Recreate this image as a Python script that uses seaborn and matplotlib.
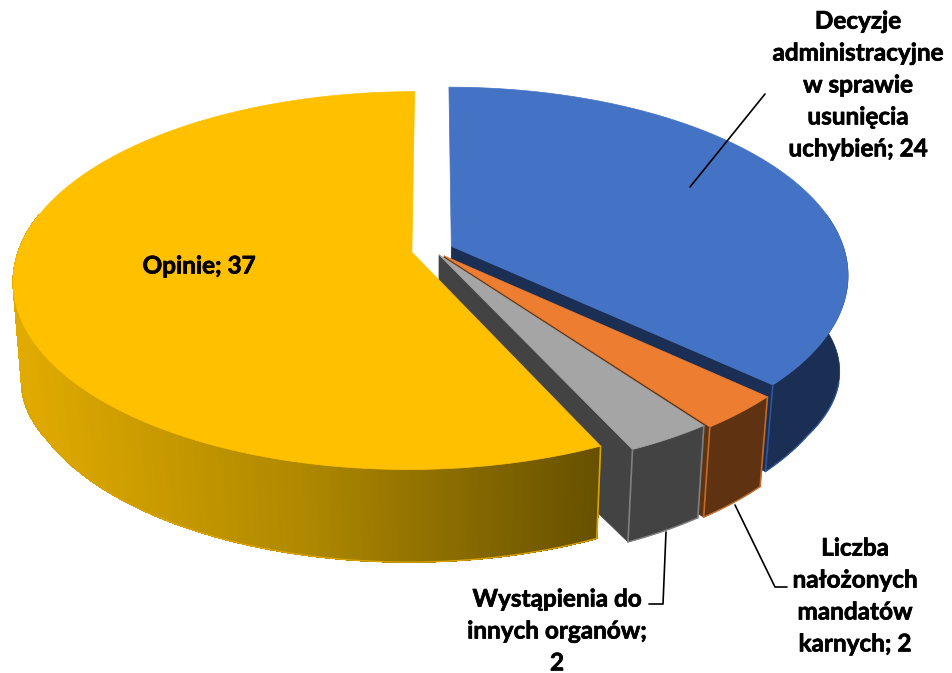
import numpy as np
import matplotlib
matplotlib.use("Agg")
import matplotlib.pyplot as plt
import matplotlib.patheffects as pe
import seaborn as sns

categories = [
    "Decyzje\nadministracyjne\nw sprawie\nusunięcia\nuchybień",
    "Liczba\nnałożonych\nmandatów\nkarnych",
    "Wystąpienia do\ninnych organów",
    "Opinie",
]
values = [24, 2, 2, 37]
separators = ["; ", "; ", ";\n", "; "]

top_colors = ["#4472C4", "#ED7D31", "#A5A5A5", "#FFC000"]
side_colors = ["#1B2F55", "#5F3311", "#434343", "#E0AA00"]
edge_colors = ["#2F5597", "#C46A28", "#808080", "#D9A300"]
explode = [0.051, 0.042, 0.030, 0.055]
wall_trim = [5, 2, 0, 0]

sns.set_theme(style="white")
plt.rcParams["font.family"] = ["Lato", "DejaVu Sans"]

# rough perspective camera, fitted by eye (pixel units)
CX, CY = 433, 250
RX, RY = 393, 184
K, M = 0.15, 0.02
# wall height in pixels along the depth axis
DEPTH_Y = [-1.05, -0.5, 0.2]
DEPTH_PX = [98, 93, 110]


def project(x, y, z=0.0, trim=0):
    x, y = np.asarray(x, dtype=float), np.asarray(y, dtype=float)
    w = 1 + K * y + M * z
    depth = np.interp(y, DEPTH_Y, DEPTH_PX) - trim
    return CX + RX * x / w, CY - RY * y / w + depth * z


fig = plt.figure(figsize=(9.52, 6.73), dpi=100)
ax = fig.add_axes([0, 0, 1, 1])
ax.set_xlim(0, 952)
ax.set_ylim(673, 0)
ax.axis("off")

# yellow wall fades from left to right
yellow_ramp = sns.blend_palette(["#E0AA00", "#AD8700", "#665000"], 200)

shares = np.array(values) / sum(values) * 360
ends = np.cumsum(shares)
starts = ends - shares

for i in range(len(values)):
    a0, a1 = np.radians(starts[i]), np.radians(ends[i])
    mid = (a0 + a1) / 2
    ox, oy = explode[i] * np.sin(mid), explode[i] * np.cos(mid)
    t = np.linspace(a0, a1, max(int(shares[i] * 3), 16))
    ux, uy = ox + np.sin(t), oy + np.cos(t)

    # cut face at the clockwise end
    xa, ya = project(ox, oy)
    xb, yb = project(ox, oy, 1, wall_trim[i])
    xc, yc = project(ux[-1], uy[-1])
    xd, yd = project(ux[-1], uy[-1], 1, wall_trim[i])
    if i < 3:
        ax.fill([xa, xc, xd, xb], [ya, yc, yd, yb], color=side_colors[i], lw=0.5)

    tx, ty = project(ux, uy)
    bx, by = project(ux, uy, 1, wall_trim[i])

    # outer wall: smooth underlay, then the ramp strips for the yellow one
    keep = uy < 0.2
    ax.fill(np.r_[tx[keep], bx[keep][::-1]], np.r_[ty[keep], by[keep][::-1]],
            color=side_colors[i], lw=0.5)
    if i == 3:
        for j in np.flatnonzero(keep[:-1] & keep[1:]):
            c = yellow_ramp[int(np.clip((tx[j] - 20) / 585, 0, 0.999) * 200)]
            ax.fill([tx[j], tx[j + 1], bx[j + 1], bx[j]],
                    [ty[j], ty[j + 1], by[j + 1], by[j]], color=c, lw=0.5,
                    antialiased=False)

    # thin lighter edges on the wall
    front = uy < -0.2
    ax.plot(bx[front], by[front], color=edge_colors[i], lw=1)
    if i in (1, 2):
        ax.plot([tx[0], bx[0]], [ty[0], by[0]], color=edge_colors[i], lw=1.2)
    if i < 3:
        ax.plot([tx[-1], bx[-1]], [ty[-1], by[-1]], color=edge_colors[i], lw=1.2)
    else:
        ax.plot([tx[0], bx[0]], [ty[0], by[0]], color=edge_colors[i], lw=1.2)

    # top face
    ax.fill(np.r_[xa, tx], np.r_[ya, ty], facecolor=top_colors[i],
            edgecolor=sns.dark_palette(top_colors[i], 4)[3], lw=0.5)

# leader lines
ax.plot([690, 765], [187, 94], color="black", lw=1.2)
ax.plot([735, 775, 787], [505, 587, 587], color="black", lw=1.2)
ax.plot([666, 663, 649], [532, 604, 604], color="black", lw=1.2)

label_pos = [(858, 85), (855, 596), (557, 631), (199, 266)]
for cat, val, sep, (lx, ly) in zip(categories, values, separators, label_pos):
    ax.text(lx, ly, f"{cat}{sep}{val}", ha="center", va="center", fontsize=17.5,
            fontweight="bold", color="black", linespacing=1.47,
            path_effects=[pe.withStroke(linewidth=0.5, foreground="black")])

fig.savefig("out.png", dpi=100)
